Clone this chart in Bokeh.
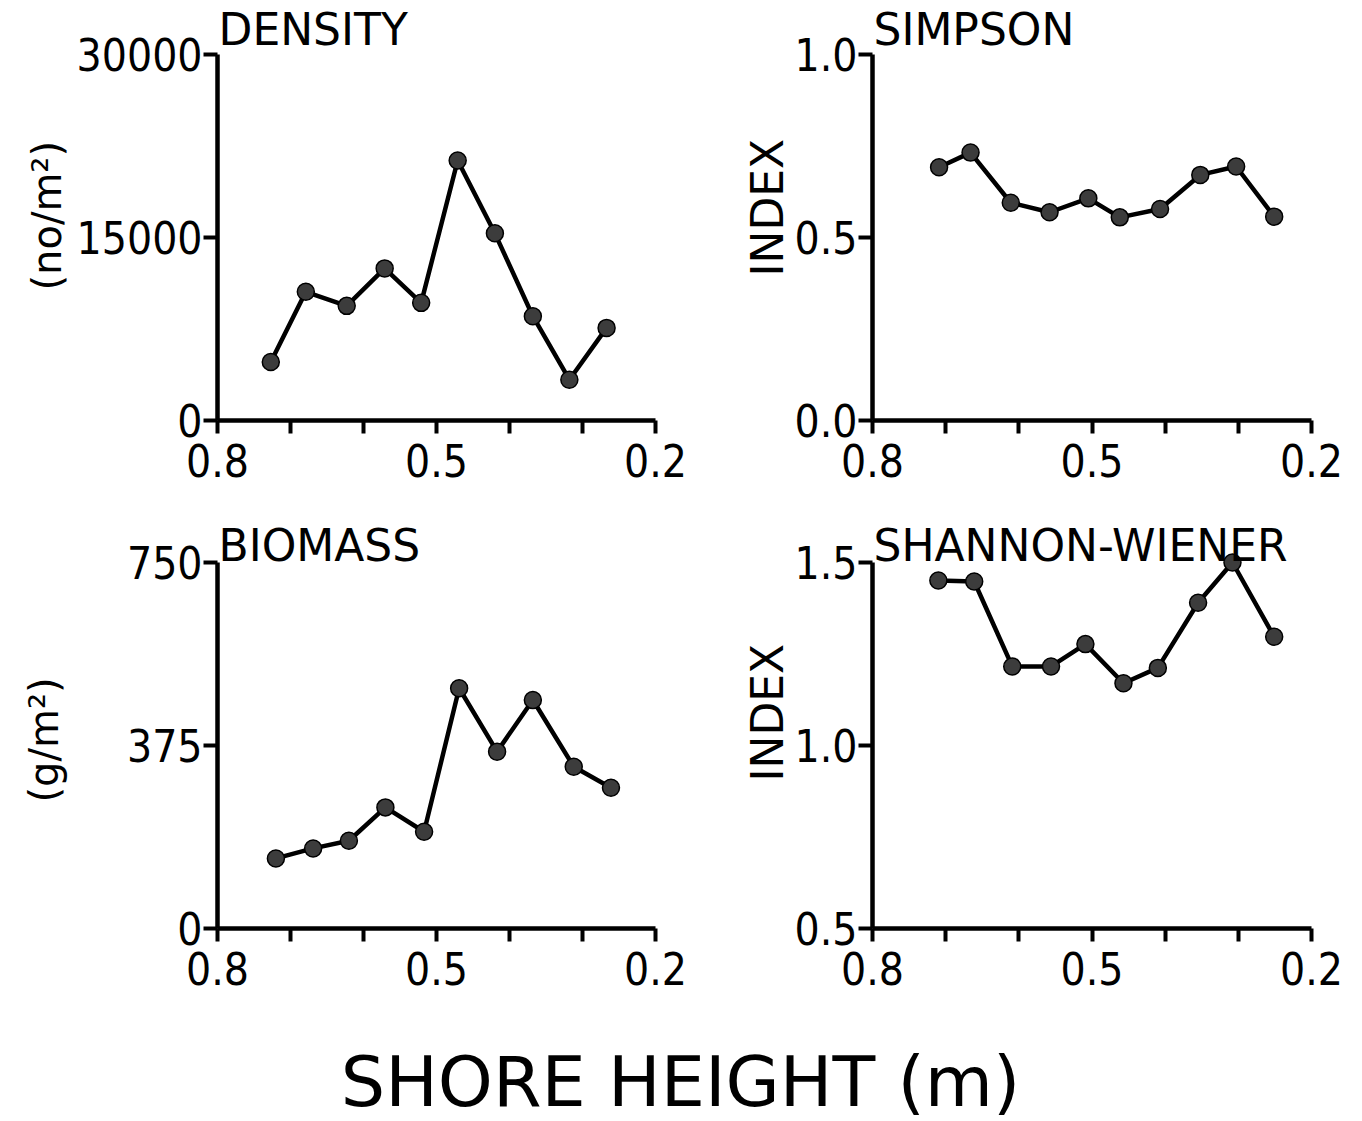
from bokeh.embed import file_html
from bokeh.layouts import column, row
from bokeh.models import FixedTicker, Label, PrintfTickFormatter, Range1d, Title
from bokeh.plotting import figure
from bokeh.resources import INLINE

# Shore height of each sampling station (m), read per panel
density_height = [0.727, 0.679, 0.623, 0.571, 0.521, 0.471, 0.420, 0.368, 0.318, 0.267]
density = [4795, 10548, 9397, 12466, 9644, 21315, 15342, 8548, 3342, 7589]

simpson_height = [0.709, 0.666, 0.611, 0.558, 0.505, 0.462, 0.407, 0.352, 0.303, 0.251]
simpson = [0.692, 0.732, 0.595, 0.569, 0.607, 0.555, 0.578, 0.671, 0.694, 0.557]

biomass_height = [0.720, 0.669, 0.620, 0.570, 0.517, 0.469, 0.417, 0.368, 0.312, 0.261]
biomass = [143.6, 164.1, 179.8, 248.2, 198.3, 492.3, 362.4, 468.3, 331.6, 288.5]

shannon_height = [0.710, 0.661, 0.609, 0.556, 0.509, 0.457, 0.410, 0.355, 0.308, 0.251]
shannon = [1.451, 1.448, 1.216, 1.216, 1.277, 1.170, 1.212, 1.390, 1.500, 1.297]

x_labelled = [0.8, 0.5, 0.2]
x_minor = [0.7, 0.6, 0.4, 0.3]

density_ticks = [0, 15000, 30000]
simpson_ticks = [0.0, 0.5, 1.0]
biomass_ticks = [0, 375, 750]
shannon_ticks = [0.5, 1.0, 1.5]

TICK_FONT = "DejaVu Sans Condensed"
TEXT_FONT = "DejaVu Sans"

AXIS_H = 366   # pixel length of the drawn y axis
HEADROOM = 11  # extra frame above the axis top so markers there are not clipped


def panel(title, xs, ys, yticks, yfmt, ylabel, ylabel_size, ylabel_start, ylabel_gap,
          left, frame_w, right, top, bottom, title_standoff, ylabel_on_axis=False):
    lo, hi = yticks[0], yticks[-1]
    pad = (hi - lo) * HEADROOM / AXIS_H
    p = figure(
        width=left + frame_w + right,
        height=top - HEADROOM + AXIS_H + HEADROOM + bottom,
        frame_width=frame_w,
        frame_height=AXIS_H + HEADROOM,
        min_border_left=left,
        min_border_right=right,
        min_border_top=top - HEADROOM,
        min_border_bottom=bottom,
        x_range=Range1d(0.8, 0.2),
        y_range=Range1d(lo, hi + pad),
        toolbar_location=None,
        output_backend="svg",
        title=title,
    )
    p.outline_line_color = None
    p.grid.visible = False
    p.background_fill_color = "white"
    p.border_fill_color = "white"

    # panel heading, flush with the y axis
    p.title.align = "left"
    p.title.offset = 1
    p.title.standoff = title_standoff - HEADROOM
    p.title.text_font = TEXT_FONT
    p.title.text_font_size = "44px"
    p.title.text_font_style = "normal"
    p.title.text_color = "black"

    xa = p.xaxis[0]
    xa.ticker = FixedTicker(ticks=x_labelled, minor_ticks=x_minor)
    xa.formatter = PrintfTickFormatter(format="%.1f")
    ya = p.yaxis[0]
    ya.ticker = FixedTicker(ticks=yticks, minor_ticks=[])
    ya.formatter = PrintfTickFormatter(format=yfmt)
    ya.bounds = (lo, hi)

    for ax in (xa, ya):
        ax.axis_line_width = 4.5
        ax.axis_line_color = "black"
        ax.major_tick_line_width = 4
        ax.major_tick_line_color = "black"
        ax.minor_tick_line_width = 4
        ax.minor_tick_line_color = "black"
        ax.major_tick_in = 0
        ax.minor_tick_in = 0
        ax.major_label_text_font = TICK_FONT
        ax.major_label_text_font_size = "44px"
        ax.major_label_text_color = "black"
    xa.major_tick_out = 13
    xa.minor_tick_out = 13
    xa.major_label_standoff = 10
    ya.major_tick_out = 14
    ya.minor_tick_out = 0
    ya.major_label_standoff = 1

    # rotated unit label left of the tick labels, reading upwards
    if ylabel_on_axis:
        ya.axis_label = ylabel
        ya.axis_label_standoff = ylabel_gap
        ya.axis_label_text_font = TEXT_FONT
        ya.axis_label_text_font_size = ylabel_size
        ya.axis_label_text_font_style = "normal"
        ya.axis_label_text_color = "black"
    else:
        p.add_layout(Title(
            text=ylabel, align="left", offset=ylabel_start, standoff=ylabel_gap,
            text_font=TEXT_FONT, text_font_size=ylabel_size, text_font_style="normal",
            text_color="black",
        ), "left")

    p.line(xs, ys, line_color="black", line_width=4.5)
    p.scatter(xs, ys, size=17, fill_color="#3c3c3c", line_color="black", line_width=1.5)
    return p


p_density = panel("DENSITY", density_height, density, density_ticks, "%d",
                  "(no/m²)", "40px", 130, 7, 217, 438, 60, 54, 88, -12)
p_simpson = panel("SIMPSON", simpson_height, simpson, simpson_ticks, "%.1f",
                  "INDEX", "44px", 144, -3, 157, 439, 40, 54, 88, -12)
p_biomass = panel("BIOMASS", biomass_height, biomass, biomass_ticks, "%d",
                  "(g/m²)", "40px", 0, 57, 217, 438, 60, 54, 85, -27,
                  ylabel_on_axis=True)
p_shannon = panel("SHANNON-WIENER", shannon_height, shannon, shannon_ticks, "%.1f",
                  "INDEX", "44px", 147, -3, 157, 439, 40, 54, 85, -27)

# Shared x-axis caption under both columns
footer = figure(
    width=1362, height=108, min_border=0,
    x_range=Range1d(0, 1), y_range=Range1d(0, 1),
    x_axis_location=None, y_axis_location=None,
    toolbar_location=None, output_backend="svg", title=None,
)
footer.outline_line_color = None
footer.grid.visible = False
footer.add_layout(Label(
    x=680, y=40, x_units="screen", y_units="screen",
    text="SHORE HEIGHT (m)", text_font=TEXT_FONT, text_font_size="70px",
    text_color="black", text_align="center", text_baseline="alphabetic",
))

layout = column(
    row(p_density, p_simpson),
    row(p_biomass, p_shannon),
    footer,
)

open("out.html", "w").write(file_html(layout, INLINE))
